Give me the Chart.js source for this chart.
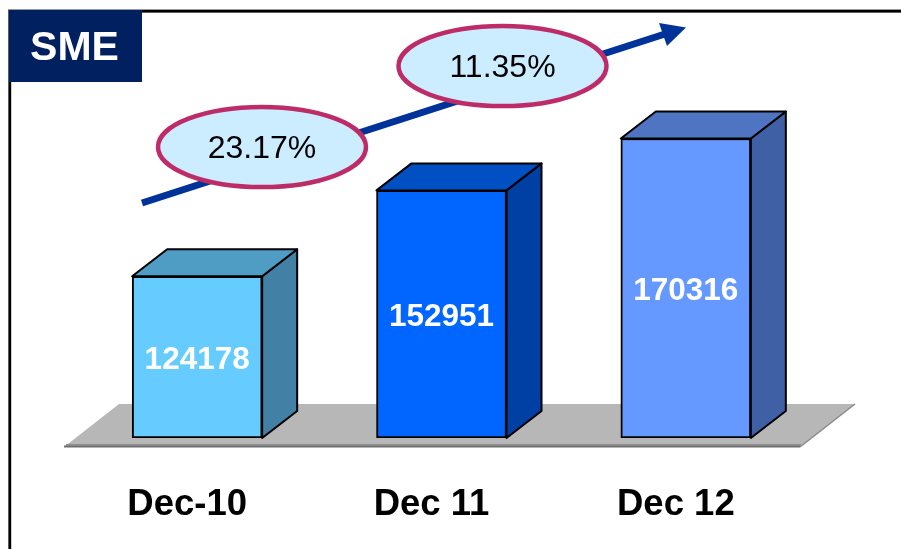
<!DOCTYPE html>
<html>
<head>
<meta charset="utf-8">
<title>SME</title>
<script src="https://cdn.jsdelivr.net/npm/chart.js@4"></script>
<style>
  html, body { margin: 0; padding: 0; background: #fff; overflow: hidden; }
  canvas { display: block; }
</style>
</head>
<body>
<canvas id="sme-chart" width="901" height="549"></canvas>
<script>
// Chart data
const categories = ['Dec-10', 'Dec 11', 'Dec 12'];
const smeValues = [124178, 152951, 170316];
const growthLabels = ['23.17%', '11.35%'];

// Bar face colours
const frontColors = ['#66CCFF', '#0066FF', '#6699FF'];
const topColors = ['#4F9CC4', '#0050C4', '#4F75C2'];
const sideColors = ['#4280A5', '#003FA3', '#4060A5'];

const FONT = '"Liberation Sans", Arial, sans-serif';
const AXIS_MIN = 70000;
const AXIS_MAX = 205000;
const DEPTH_X = 35;
const DEPTH_Y = 27;

function polygon(ctx, pts, fill, stroke, lineWidth) {
  ctx.beginPath();
  pts.forEach((p, i) => (i ? ctx.lineTo(p[0], p[1]) : ctx.moveTo(p[0], p[1])));
  ctx.closePath();
  ctx.fillStyle = fill;
  ctx.fill();
  if (stroke) {
    ctx.strokeStyle = stroke;
    ctx.lineWidth = lineWidth;
    ctx.lineJoin = 'round';
    ctx.stroke();
  }
}

// Grey floor under the bars, plus the top and side faces of each bar
const boxPlugin = {
  id: 'box3d',
  beforeDatasetsDraw(chart) {
    const ctx = chart.ctx;
    ctx.save();
    polygon(ctx, [[119, 404], [855, 404], [800, 447], [64, 447]], '#B7B7B7');
    ctx.fillStyle = '#8E8E8E';
    ctx.fillRect(66, 444, 735, 1.5);
    ctx.fillStyle = '#6E6E6E';
    ctx.fillRect(64, 445.5, 736, 2);
    ctx.strokeStyle = '#8A8A8A';
    ctx.lineWidth = 1.5;
    ctx.beginPath();
    ctx.moveTo(800, 447);
    ctx.lineTo(855, 404);
    ctx.stroke();

    chart.getDatasetMeta(0).data.forEach((bar, i) => {
      const left = bar.x - bar.width / 2;
      const right = bar.x + bar.width / 2;
      const top = bar.y;
      const bottom = bar.base;
      polygon(ctx, [[right, top], [right + DEPTH_X, top - DEPTH_Y], [right + DEPTH_X, bottom - DEPTH_Y], [right, bottom]],
        sideColors[i], '#000', 2);
      polygon(ctx, [[left, top], [left + DEPTH_X, top - DEPTH_Y], [right + DEPTH_X, top - DEPTH_Y], [right, top]],
        topColors[i], '#000', 2);
    });
    ctx.restore();
  },
  afterDatasetsDraw(chart) {
    const ctx = chart.ctx;
    ctx.save();

    // Value labels in the middle of the bars
    ctx.font = 'bold 31.5px ' + FONT;
    ctx.fillStyle = '#fff';
    ctx.textAlign = 'center';
    ctx.textBaseline = 'middle';
    chart.getDatasetMeta(0).data.forEach((bar, i) => {
      ctx.fillText(String(smeValues[i]), bar.x, (bar.y + bar.base) / 2 + 3.5);
    });

    // Frame and title box
    ctx.fillStyle = '#999';
    ctx.fillRect(8, 9, 893, 4);
    ctx.fillRect(8, 9, 3.5, 540);
    ctx.fillStyle = '#000';
    ctx.fillRect(9, 10, 892, 2.4);
    ctx.fillRect(8.6, 10, 2.4, 539);
    ctx.fillStyle = '#00205F';
    ctx.fillRect(9, 10, 133, 72);
    ctx.fillStyle = '#fff';
    ctx.font = 'bold 41px ' + FONT;
    ctx.fillText('SME', 74.5, 49);

    // Trend arrow
    ctx.strokeStyle = '#003399';
    ctx.lineWidth = 7;
    ctx.beginPath();
    ctx.moveTo(142, 203);
    ctx.lineTo(668, 33);
    ctx.stroke();
    polygon(ctx, [[686, 27.5], [659, 23], [667, 46]], '#003399');

    // Growth ellipses
    const ellipses = [[262, 147], [502.5, 66]];
    ellipses.forEach((c, i) => {
      ctx.beginPath();
      ctx.ellipse(c[0], c[1], 104, 40, 0, 0, Math.PI * 2);
      ctx.fillStyle = '#CCECFF';
      ctx.fill();
      ctx.strokeStyle = '#BE2C68';
      ctx.lineWidth = 4.5;
      ctx.stroke();
      ctx.fillStyle = '#000';
      ctx.font = '32px ' + FONT;
      ctx.fillText(growthLabels[i], c[0], c[1] + 2);
    });
    ctx.restore();
  }
};

new Chart(document.getElementById('sme-chart'), {
  type: 'bar',
  data: {
    labels: categories,
    datasets: [{
      data: smeValues,
      base: AXIS_MIN,
      backgroundColor: frontColors,
      borderColor: '#000',
      borderWidth: 2,
      borderSkipped: false,
      barThickness: 130
    }]
  },
  options: {
    responsive: false,
    animation: false,
    layout: { padding: { left: 75, right: 93, top: 35, bottom: 0 } },
    plugins: { legend: { display: false }, tooltip: { enabled: false } },
    scales: {
      x: {
        afterFit(scale) { scale.height = 111; },
        grid: { display: false },
        border: { display: false },
        ticks: {
          color: '#000',
          padding: 37,
          labelOffset: -10,
          maxRotation: 0,
          font: { family: FONT, size: 36.5, weight: 'bold' }
        }
      },
      y: { display: false, min: AXIS_MIN, max: AXIS_MAX }
    }
  },
  plugins: [boxPlugin]
});
</script>
</body>
</html>
